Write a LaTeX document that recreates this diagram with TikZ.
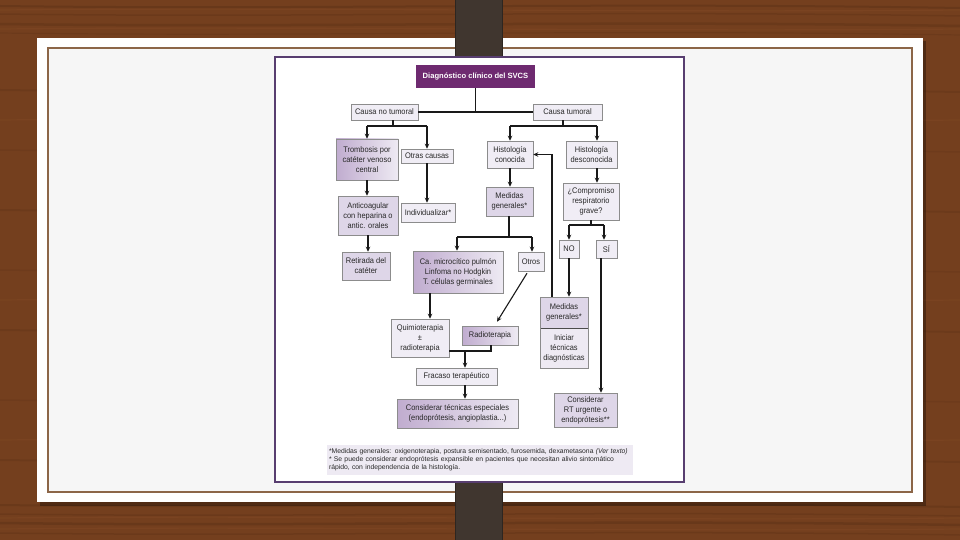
\documentclass[tikz,border=0pt]{standalone}
\usepackage{fontspec}
\setmainfont{Liberation Sans}
\newfontfamily\boxfont{Liberation Sans}[FakeStretch=0.92]
\usetikzlibrary{arrows.meta,shadows,calc}
\definecolor{wood}{RGB}{116,63,30}
\definecolor{woodd}{RGB}{88,46,20}
\definecolor{woodl}{RGB}{140,82,42}
\definecolor{cardin}{RGB}{246,246,246}
\definecolor{cardline}{RGB}{140,102,72}
\definecolor{stripc}{RGB}{64,54,47}
\definecolor{chartframe}{RGB}{88,62,112}
\definecolor{titlec}{RGB}{110,42,112}
\definecolor{lightf}{RGB}{240,237,245}
\definecolor{midf}{RGB}{222,214,232}
\definecolor{darkf}{RGB}{192,172,207}
\definecolor{palef}{RGB}{238,234,243}
\definecolor{txt}{RGB}{40,40,40}
\tikzset{
  shad/.style={drop shadow={shadow xshift=1.3pt, shadow yshift=-1.3pt, fill=black!70, opacity=1}},
  boxbase/.style={draw=black!45, line width=0.5pt, align=center, inner sep=1pt,
    text=txt, font=\boxfont\fontsize{8.1}{10}\selectfont, shad},
  lbox/.style={boxbase, fill=lightf},
  mbox/.style={boxbase, fill=midf},
  gbox/.style={boxbase, left color=darkf, right color=palef},
  titlebox/.style={fill=titlec, text=white, font=\bfseries\fontsize{7.6}{9}\selectfont,
    minimum width=119pt, minimum height=23pt, inner sep=0pt},
  conn/.style={line width=1.1pt, draw=black!90},
  thickline/.style={line width=2.4pt, draw=black!90},
  arr/.style={conn, -{Stealth[length=5pt,width=4.5pt]}},
  wh/.style 2 args={minimum width=#1pt, minimum height=#2pt}
}
\begin{document}
\begin{tikzpicture}[x=1pt,y=-1pt]
\useasboundingbox (0,0) rectangle (960,540);
% background wood
\fill[wood] (0,0) rectangle (960,540);
\foreach \yy/\o/\w in {6/0.4/2,14/0.3/1.5,24/0.35/2.5,33/0.25/1.2,505/0.35/2,514/0.3/1.5,523/0.4/2.5,533/0.3/1.5,
  90/0.25/2,150/0.2/1.5,210/0.25/2,270/0.2/1.5,330/0.25/2,400/0.2/1.5,460/0.25/2}{
  \draw[woodd,opacity=\o,line width=\w pt] (0,\yy) .. controls (300,\yy+4) and (600,\yy-4) .. (960,\yy+2);
}
\foreach \yy in {10,29,518,529,120,300,440}{
  \draw[woodl,opacity=0.25,line width=1.2pt] (0,\yy) .. controls (320,\yy-3) and (640,\yy+3) .. (960,\yy);
}
% card
\fill[black,opacity=0.3] (40,41) rectangle (926,506);
\fill[white] (37,38) rectangle (923,502);
\fill[cardin] (48,48) rectangle (912,492);
\draw[cardline, line width=2pt] (48,48) rectangle (912,492);
% strip
\fill[stripc] (455,0) rectangle (503,540);
\draw[black!30!stripc, line width=1pt] (455.5,0) -- (455.5,540) (502.5,0) -- (502.5,540);
% chart sheet
\filldraw[fill=white, draw=chartframe, line width=1.3pt] (275,57) rectangle (684,482);

% nodes
\node[titlebox] (title) at (475.5,76.5) {Diagnóstico clínico del SVCS};
\node[lbox, wh={67}{16}] (cnt) at (384.5,112) {Causa no tumoral};
\node[lbox, wh={69}{16}] (ct) at (567.5,112) {Causa tumoral};

\node[gbox, wh={62}{41}] (tromb) at (367,159.5) {Trombosis por\\catéter venoso\\central};
\node[lbox, wh={52}{14}] (otras) at (427,156) {Otras causas};
\node[mbox, wh={60}{39}] (antic) at (368,215.5) {Anticoagular\\con heparina o\\antic. orales};
\node[lbox, wh={54}{19}] (indiv) at (428,212.5) {Individualizar*};
\node[mbox, wh={48}{28}] (retir) at (366,266) {Retirada del\\catéter};

\node[lbox, wh={46}{27}] (histc) at (510,154.5) {Histología\\conocida};
\node[lbox, wh={51}{27}] (histd) at (591.5,154.5) {Histología\\desconocida};
\node[mbox, wh={47}{29}] (medg1) at (509.5,201.5) {Medidas\\generales*};
\node[lbox, wh={56}{37}] (comp) at (591,201.5) {¿Compromiso\\respiratorio\\grave?};
\node[lbox, wh={20}{18}] (no) at (569,249) {NO};
\node[lbox, wh={21}{18}] (si) at (606.5,249) {SÍ};

\node[gbox, wh={90}{42}] (ca) at (458,272) {Ca. microcítico pulmón\\Linfoma no Hodgkin\\T. células germinales};
\node[lbox, wh={26}{19}] (otros) at (531,261.5) {Otros};

\node[mbox, draw=none, wh={48}{31}] (medg2) at (564,312.5) {Medidas\\generales*};
\node[boxbase, fill=palef, draw=none, wh={48}{39}, anchor=north] (medg2b) at (medg2.south) {Iniciar\\técnicas\\diagnósticas};
\draw[black!45, line width=0.5pt] (medg2.north west) rectangle (medg2b.south east);

\node[lbox, wh={58}{38}] (quim) at (420,338) {Quimioterapia\\±\\radioterapia};
\node[gbox, wh={56}{19}] (radio) at (490,335.5) {Radioterapia};
\node[lbox, wh={81}{17}] (frac) at (456.5,376.5) {Fracaso terapéutico};
\node[gbox, wh={121}{29}] (cte) at (457.5,413.5) {Considerar técnicas especiales\\(endoprótesis, angioplastia...)};
\node[mbox, wh={63}{34}] (rt) at (585.5,410) {Considerar\\RT urgente o\\endoprótesis**};

\node[fill=palef, text=txt, font=\fontsize{6.8}{8.2}\selectfont, align=left,
  minimum width=306pt, minimum height=30pt, inner xsep=2pt, text width=302pt] (foot) at (480,460)
  {*Medidas generales: oxigenoterapia, postura semisentado, furosemida, dexametasona \textit{(Ver texto)}\\
   ** Se puede considerar endoprótesis expansible en pacientes que necesitan alivio sintomático\\
   rápido, con independencia de la histología.};

% connectors
\draw[conn] (title.south) -- (title.south |- cnt.east);
\draw[thickline] (cnt.east) -- (ct.west);

\coordinate (bl) at (393,126);
\draw[conn] (cnt.south -| bl) -- (bl);
\draw[thickline] (tromb.north |- bl) -- (otras.north |- bl);
\draw[arr] (tromb.north |- bl) -- (tromb.north);
\draw[arr] (otras.north |- bl) -- (otras.north);
\draw[arr] (tromb.south) -- (tromb.south |- antic.north);
\draw[arr] (otras.south) -- (otras.south |- indiv.north);
\draw[arr] (antic.south) -- (antic.south |- retir.north);

\coordinate (br) at (563,126);
\coordinate (bhd) at (597,126);
\draw[conn] (ct.south -| br) -- (br);
\draw[thickline] (histc.north |- br) -- (bhd);
\draw[arr] (histc.north |- br) -- (histc.north);
\draw[arr] (bhd) -- (bhd |- histd.north);
\draw[arr] (histc.south) -- (histc.south |- medg1.north);
\draw[arr] (bhd |- histd.south) -- (bhd |- comp.north);

\coordinate (bm) at (509,237);
\coordinate (bca) at (457,237);
\coordinate (bot) at (532,237);
\draw[conn] (medg1.south -| bm) -- (bm);
\draw[thickline] (bca) -- (bot);
\draw[arr] (bca) -- (bca |- ca.north);
\draw[arr] (bot) -- (bot |- otros.north);

\coordinate (bc) at (591,225);
\coordinate (bno) at (569,225);
\coordinate (bsi) at (604,225);
\draw[conn] (comp.south) -- (bc);
\draw[thickline] (bno) -- (bsi);
\draw[arr] (bno) -- (bno |- no.north);
\draw[arr] (bsi) -- (bsi |- si.north);
\draw[arr] (no.south) -- (no.south |- medg2.north);

\coordinate (lp) at (552,154.5);
\draw[arr] (medg2.north -| lp) -- (lp) -- (histc.east);
\coordinate (sx) at (601,258);
\draw[arr] (si.south -| sx) -- (sx |- rt.north);

\coordinate (cqx) at (430,293);
\draw[arr] (ca.south -| cqx) -- (cqx |- quim.north);
\draw[arr] ($(otros.south)+(-4,2)$) -- ($(radio.north)+(7,-4)$);

\coordinate (jq) at (491,351);
\coordinate (jf) at (465,351);
\draw[thickline] (quim.east |- jq) -- (jq) -- (jq |- radio.south);
\draw[arr] (jf) -- (jf |- frac.north);
\draw[arr] (frac.south -| jf) -- (jf |- cte.north);
\end{tikzpicture}
\end{document}
